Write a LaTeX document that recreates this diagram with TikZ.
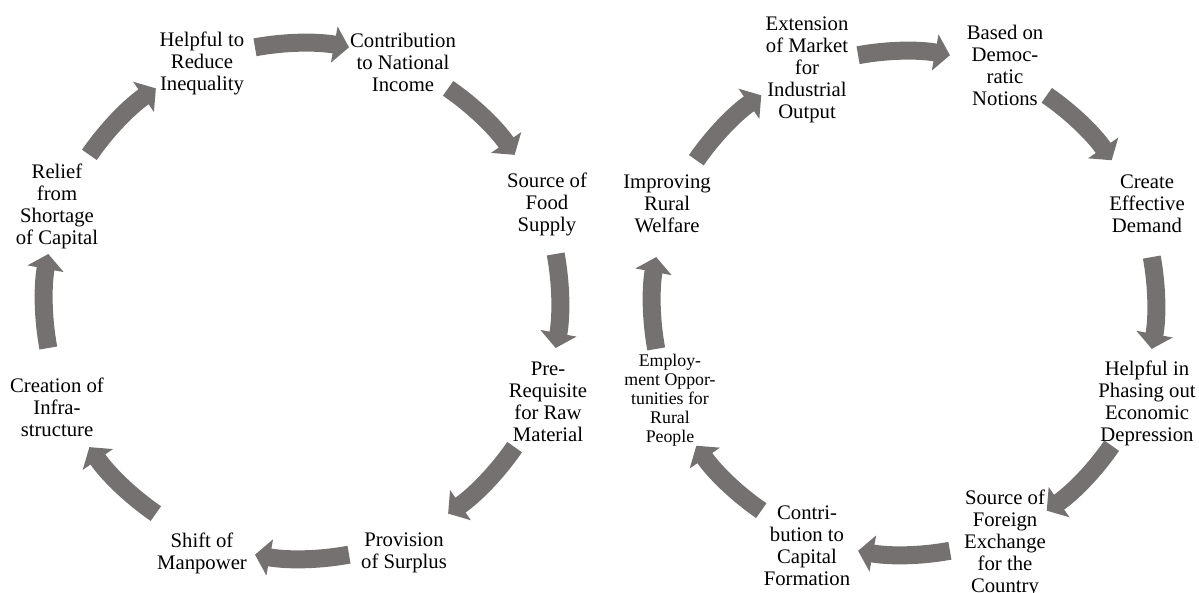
\documentclass[tikz,border=0pt]{standalone}
\usepackage{fontspec}
\setmainfont{Liberation Serif}
\usetikzlibrary{arrows.meta}
\definecolor{arrowgray}{RGB}{118,113,113}
\begin{document}
\begin{tikzpicture}[x=1pt, y=1pt,
        txt/.style={align=center, inner sep=0pt, font=\fontsize{20.7}{22}\selectfont},
        small/.style={align=center, inner sep=0pt, font=\fontsize{17.8}{18.9}\selectfont},
        cyc/.style={draw=arrowgray, line width=18pt, -{Triangle[length=15pt, width=36pt]}}]
        \useasboundingbox (0, 0) rectangle (1199, 593);
        \coordinate (O) at (302, 292);
        \coordinate (P) at (904, 290);

        \node[txt] (A1) at (202, 530) {Helpful to\\Reduce\\Inequality};
        \node[txt] (A2) at (403, 531) {Contribution\\to National\\Income};
        \node[txt] (A3) at (547, 389) {Source of\\Food\\Supply};
        \node[txt] (A4) at (548, 191) {Pre-\\Requisite\\for Raw\\Material};
        \node[txt] (A5) at (404, 40) {Provision\\of Surplus};
        \node[txt] (A6) at (202, 40) {Shift of\\Manpower};
        \node[txt] (A7) at (57, 186) {Creation of\\Infra-\\structure};
        \node[txt] (A8) at (57, 387) {Relief\\from\\Shortage\\of Capital};

        \node[txt] (B1) at (667, 389) {Improving\\Rural\\Welfare};
        \node[txt] (B2) at (807, 523) {Extension\\of Market\\for\\Industrial\\Output};
        \node[txt] (B3) at (1005, 528) {Based on\\Democ-\\ratic\\Notions};
        \node[txt] (B4) at (1147, 389) {Create\\Effective\\Demand};
        \node[txt] (B5) at (1147, 190) {Helpful in\\Phasing out\\Economic\\Depression};
        \node[txt] (B6) at (1005, 50) {Source of\\Foreign\\Exchange\\for the\\Country};
        \node[txt] (B7) at (807, 47) {Contri-\\bution to\\Capital\\Formation};
        \node[small] (B8) at (670, 193) {Employ-\\ment Oppor-\\tunities for\\Rural\\People};

        \foreach \a in {90, 45, ..., -225} {
            \draw[cyc] ([shift={(\a+10.5:258)}]O) arc[start angle=\a+10.5, end angle=\a-10.5, radius=258];
            \draw[cyc] ([shift={(\a+10.5:252)}]P) arc[start angle=\a+10.5, end angle=\a-10.5, radius=252];
        }
    \end{tikzpicture}
\end{document}
